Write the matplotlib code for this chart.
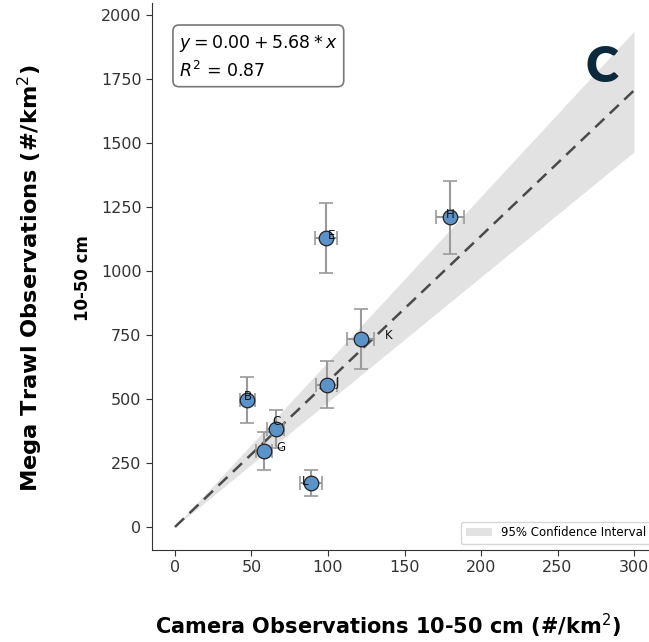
import numpy as np
import matplotlib.pyplot as plt

# Site values (camera vs mega trawl, 10-50 cm)
sites = ['B', 'C', 'G', 'L', 'J', 'E', 'K', 'H']
camera = [47.3, 65.8, 58.4, 88.9, 99.1, 98.7, 121.3, 179.7]
camera_err = [4.7, 5.6, 5.2, 7.0, 7.0, 7.0, 8.7, 9.3]
trawl = [496, 383, 297, 171, 555, 1128, 734, 1208]
trawl_err = [91, 74, 73, 52, 92, 136, 117, 142]

# fit through origin and 95% band slopes
intercept = 0.00
slope = 5.68
r2 = 0.87
slope_low = 4.88
slope_high = 6.45
fit_x = [0, 300]

# label offsets in pixels (dx, dy) so letters sit like the original
label_offsets = {'B': (-3, 3), 'C': (-3, 7), 'G': (12, 3), 'L': (-9, 2),
                 'J': (9, 2), 'E': (2, 2), 'K': (24, 3), 'H': (-4, 3)}

fig = plt.figure(figsize=(6.49, 6.42), dpi=100)
ax = fig.add_axes([152 / 649, 1 - 550 / 642, 505 / 649, 547 / 642])

xs = np.array(fit_x, dtype=float)
ax.fill_between(xs, intercept + slope_low * xs, intercept + slope_high * xs,
                color='#d6d6d6', alpha=0.7, linewidth=0, label='95% Confidence Interval', zorder=1)
ax.plot(xs, intercept + slope * xs, linestyle='--', color='#4a4a4a', linewidth=1.8,
        dashes=(5, 3), zorder=2)

ax.errorbar(camera, trawl, xerr=camera_err, yerr=trawl_err, fmt='none',
            ecolor='#9a9a9a', elinewidth=1.5, capsize=5, capthick=1.2, zorder=3)
ax.scatter(camera, trawl, s=110, color='#5b93c8', edgecolor='#222222', linewidth=0.9, zorder=4)

for name, x, y in zip(sites, camera, trawl):
    dx, dy = label_offsets[name]
    ax.annotate(name, (x, y), xytext=(dx, dy), textcoords='offset pixels',
                ha='left', va='center', fontsize=8.5, color='#111111', zorder=5)

ax.text(0.0535, 0.945, f'$y = {intercept:.2f} + {slope:.2f} * x$\n$R^2$ = {r2:.2f}',
        transform=ax.transAxes, ha='left', va='top', fontsize=12.5, linespacing=1.4,
        bbox=dict(boxstyle='round,pad=0.35', facecolor='white', edgecolor='#777777', linewidth=1.2))

ax.set_xlim(-15, 315)
ax.set_ylim(-90, 2045)
ax.set_xticks(range(0, 301, 50))
ax.set_yticks(range(0, 2001, 250))
ax.tick_params(labelsize=11.5, labelcolor='#333333', length=4, color='#333333')
for side in ['top', 'right']:
    ax.spines[side].set_visible(False)
for side in ['left', 'bottom']:
    ax.spines[side].set_color('#333333')

leg = ax.legend(loc='lower right', fontsize=8.5, frameon=True, borderpad=0.4,
                handlelength=2.2, fancybox=True)
leg.get_frame().set_edgecolor('#cccccc')

fig.text(30 / 649, 1 - 278 / 642, 'Mega Trawl Observations (#/km$^2$)', rotation=90,
         ha='center', va='center', fontsize=16.2, fontweight='bold')
fig.text(83 / 649, 1 - 278 / 642, '10-50 cm', rotation=90,
         ha='center', va='center', fontsize=12, fontweight='bold')
fig.text(155 / 649, 1 - 626 / 642, 'Camera Observations 10-50 cm (#/km$^2$)',
         ha='left', va='center', fontsize=15, fontweight='bold')

fig.text(602 / 649, 1 - 67 / 642, 'C', ha='center', va='center', fontsize=36,
         fontweight='heavy', family='Lato', color='#0c2a3b')

fig.savefig('out.png', dpi=100)
